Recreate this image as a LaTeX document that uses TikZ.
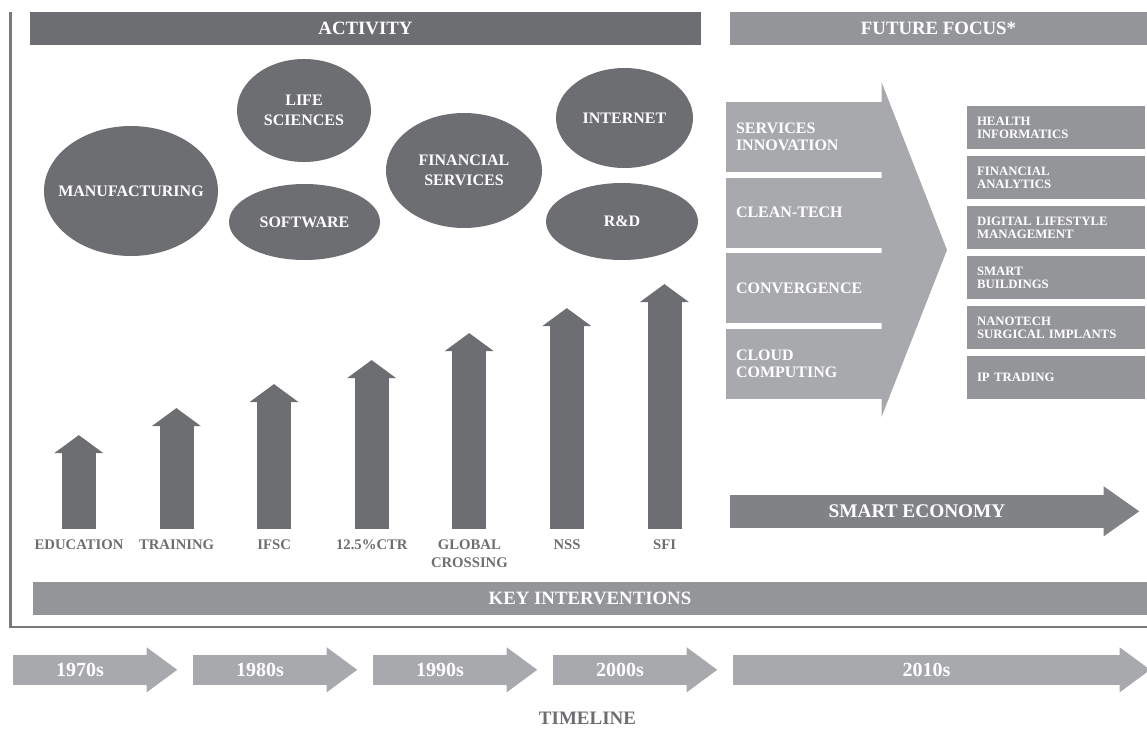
\documentclass[tikz,border=0pt]{standalone}
\usepackage{fontspec}
\setmainfont{Liberation Serif}
\usetikzlibrary{positioning,shapes.geometric}

\definecolor{darkgrey}{RGB}{109,110,113}
\definecolor{midgrey}{RGB}{147,149,152}
\definecolor{stripgrey}{RGB}{128,130,133}
\definecolor{lightgrey}{RGB}{167,169,172}
\definecolor{framegrey}{RGB}{120,121,124}

\tikzset{
  heading/.style={fill=#1, text=white, inner sep=0pt, minimum height=32.5pt,
    font=\bfseries\fontsize{18.8}{20}\selectfont},
  blob/.style={ellipse, fill=darkgrey, inner sep=0pt},
  blobtext/.style={text=white, align=center, inner sep=0pt,
    font=\bfseries\fontsize{16}{20}\selectfont},
  shaft/.style={fill=darkgrey, minimum width=34pt, inner sep=0pt, anchor=south},
  risertext/.style={text=darkgrey, align=center, inner sep=0pt, anchor=north,
    font=\bfseries\fontsize{14.7}{17.5}\selectfont},
  trend/.style={fill=lightgrey, text=white, inner xsep=10pt, inner ysep=0pt,
    text width=136pt, minimum height=70pt, align=left,
    font=\bfseries\fontsize{16}{17}\selectfont},
  niche/.style={fill=midgrey, text=white, inner xsep=10pt, inner ysep=0pt,
    text width=158pt, minimum height=43pt, align=left,
    font=\bfseries\fontsize{12.8}{13}\selectfont},
  era/.style={fill=lightgrey, text=white, inner sep=0pt, minimum height=30pt,
    font=\bfseries\fontsize{20}{22}\selectfont}
}

\begin{document}
\begin{tikzpicture}[x=1pt, y=-1pt]
  \useasboundingbox (0,0) rectangle (1147,728);

  % frame round the activity part
  \draw[framegrey, line width=2.5pt] (10.5,12) -- (10.5,627) -- (1150,627);

  % headings
  \node[heading=darkgrey, minimum width=671pt] (activity) at (365.5,28.25) {ACTIVITY};
  \node[heading=midgrey, minimum width=417pt] (focus) at (938.5,28.25) {FUTURE FOCUS*};

  % activity bubbles
  \node[blob, minimum width=174pt, minimum height=130pt] (manuf) at (131,191) {};
  \node[blob, minimum width=134pt, minimum height=103pt] (life) at (304,110.5) {};
  \node[blob, minimum width=151pt, minimum height=76pt] (soft) at (304.5,222) {};
  \node[blob, minimum width=156pt, minimum height=115pt] (fin) at (464,170.5) {};
  \node[blob, minimum width=137pt, minimum height=100pt] (inet) at (624.5,118) {};
  \node[blob, minimum width=152pt, minimum height=77pt] (rnd) at (622,221.5) {};
  \node[blobtext] (manuf-t) at (manuf) {MANUFACTURING};
  \node[blobtext] (life-t) at (life) {LIFE\\SCIENCES};
  \node[blobtext] (soft-t) at (soft) {SOFTWARE};
  \node[blobtext] (fin-t) at (fin) {FINANCIAL\\SERVICES};
  \node[blobtext] (inet-t) at (inet) {INTERNET};
  \node[blobtext] (rnd-t) at (rnd) {R\&D};

  % interventions
  \node[shaft, minimum height=76pt] (edu) at (79,529) {};
  \node[shaft, minimum height=103pt] (train) at (176.6,529) {};
  \node[shaft, minimum height=127pt] (ifsc) at (274.2,529) {};
  \node[shaft, minimum height=151pt] (ctr) at (371.8,529) {};
  \node[shaft, minimum height=178pt] (glob) at (469.4,529) {};
  \node[shaft, minimum height=203pt] (nss) at (567,529) {};
  \node[shaft, minimum height=227pt] (sfi) at (664.6,529) {};
  \fill[darkgrey] ([yshift=-0.5pt]edu.north west) -- ++(-7.5,0) -- ++(24.5,-18) -- ++(24.5,18) -- cycle;
  \fill[darkgrey] ([yshift=-0.5pt]train.north west) -- ++(-7.5,0) -- ++(24.5,-18) -- ++(24.5,18) -- cycle;
  \fill[darkgrey] ([yshift=-0.5pt]ifsc.north west) -- ++(-7.5,0) -- ++(24.5,-18) -- ++(24.5,18) -- cycle;
  \fill[darkgrey] ([yshift=-0.5pt]ctr.north west) -- ++(-7.5,0) -- ++(24.5,-18) -- ++(24.5,18) -- cycle;
  \fill[darkgrey] ([yshift=-0.5pt]glob.north west) -- ++(-7.5,0) -- ++(24.5,-18) -- ++(24.5,18) -- cycle;
  \fill[darkgrey] ([yshift=-0.5pt]nss.north west) -- ++(-7.5,0) -- ++(24.5,-18) -- ++(24.5,18) -- cycle;
  \fill[darkgrey] ([yshift=-0.5pt]sfi.north west) -- ++(-7.5,0) -- ++(24.5,-18) -- ++(24.5,18) -- cycle;
  \node[risertext, below=11pt of edu] (edu-t) {EDUCATION};
  \node[risertext, below=11pt of train] (train-t) {TRAINING};
  \node[risertext, below=11pt of ifsc] (ifsc-t) {IFSC};
  \node[risertext, below=11pt of ctr] (ctr-t) {12.5\%CTR};
  \node[risertext, below=11pt of glob] (glob-t) {GLOBAL\\CROSSING};
  \node[risertext, below=11pt of nss] (nss-t) {NSS};
  \node[risertext, below=11pt of sfi] (sfi-t) {SFI};

  % future focus
  \fill[lightgrey] (881.5,82) -- (947,250) -- (881.5,417) -- cycle;
  \node[trend] (services) at (804,137) {SERVICES\\INNOVATION};
  \node[trend, below=5.3pt of services] (clean) {CLEAN-TECH};
  \node[trend, below=5.3pt of clean] (conv) {CONVERGENCE};
  \node[trend, below=5.3pt of conv] (cloud) {CLOUD\\COMPUTING};

  \node[niche] (health) at (1056,127.5) {HEALTH\\INFORMATICS};
  \node[niche, below=6.6pt of health] (analytics) {FINANCIAL\\ANALYTICS};
  \node[niche, below=6.6pt of analytics] (digital) {DIGITAL LIFESTYLE\\MANAGEMENT};
  \node[niche, below=6.6pt of digital] (buildings) {SMART\\BUILDINGS};
  \node[niche, below=6.6pt of buildings] (nano) {NANOTECH\\SURGICAL IMPLANTS};
  \node[niche, below=6.6pt of nano] (ip) {IP TRADING};

  % smart economy
  \node[heading=stripgrey, minimum width=374pt, minimum height=33pt,
    font=\bfseries\fontsize{19.3}{21}\selectfont] (smart) at (917,511.5) {SMART ECONOMY};
  \fill[stripgrey] ([xshift=-0.5pt]smart.north east) -- ++(0,-8.5) -- ++(35.5,25) -- ++(-35.5,25) -- ++(0,-8.5) -- cycle;

  \node[heading=midgrey, minimum width=1114pt, minimum height=33pt] (key) at (590,598.5) {KEY INTERVENTIONS};

  % timeline
  \node[era, minimum width=134pt] (s70) at (80,670) {1970s};
  \node[era, minimum width=134pt] (s80) at (260,670) {1980s};
  \node[era, minimum width=134pt] (s90) at (440,670) {1990s};
  \node[era, minimum width=134pt] (s00) at (620,670) {2000s};
  \node[era, minimum width=387pt] (s10) at (926.5,670) {2010s};
  \fill[lightgrey] ([xshift=-0.5pt]s70.north east) -- ++(0,-7.5) -- ++(30.5,22.5) -- ++(-30.5,22.5) -- ++(0,-7.5) -- cycle;
  \fill[lightgrey] ([xshift=-0.5pt]s80.north east) -- ++(0,-7.5) -- ++(30.5,22.5) -- ++(-30.5,22.5) -- ++(0,-7.5) -- cycle;
  \fill[lightgrey] ([xshift=-0.5pt]s90.north east) -- ++(0,-7.5) -- ++(30.5,22.5) -- ++(-30.5,22.5) -- ++(0,-7.5) -- cycle;
  \fill[lightgrey] ([xshift=-0.5pt]s00.north east) -- ++(0,-7.5) -- ++(30.5,22.5) -- ++(-30.5,22.5) -- ++(0,-7.5) -- cycle;
  \fill[lightgrey] ([xshift=-0.5pt]s10.north east) -- ++(0,-7.5) -- ++(30.5,22.5) -- ++(-30.5,22.5) -- ++(0,-7.5) -- cycle;
  \node[text=darkgrey, inner sep=0pt, font=\bfseries\fontsize{19}{21}\selectfont] (timeline) at (587.5,718) {TIMELINE};
\end{tikzpicture}
\end{document}
